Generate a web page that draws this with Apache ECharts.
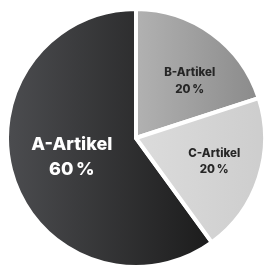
<!DOCTYPE html>
<html>
<head>
<meta charset="utf-8">
<script src="https://cdn.jsdelivr.net/npm/echarts@6/dist/echarts.min.js"></script>
<style>
  html, body { margin: 0; padding: 0; background: #fff; }
  #main { width: 267px; height: 266px; }
</style>
</head>
<body>
<div id="main"></div>
<script>
var categories = ["A-Artikel", "B-Artikel", "C-Artikel"];
var values = [60, 20, 20];
var percentLabels = ["60\u2009%", "20\u2009%", "20\u2009%"];

var gradients = [
  ["#4c4d50", "#1b1b1b"],
  ["#b2b2b2", "#8a8a8a"],
  ["#dcdcdc", "#cdcdcd"]
];
var labelStyles = [
  { color: "#ffffff", fontSize: 18, lineHeight: 25, offset: [0, -2] },
  { color: "#262626", fontSize: 11.5, lineHeight: 17, offset: [14, -2] },
  { color: "#262626", fontSize: 11.5, lineHeight: 16, offset: [14, 3] }
];

var chart = echarts.init(document.getElementById("main"));

var data = [];
for (var i = 0; i < categories.length; i++) {
  data.push({
    name: categories[i],
    value: values[i],
    pct: percentLabels[i],
    itemStyle: {
      color: new echarts.graphic.LinearGradient(0, 0, 1, 0, [
        { offset: 0, color: gradients[i][0] },
        { offset: 1, color: gradients[i][1] }
      ])
    },
    label: {
      color: labelStyles[i].color,
      fontSize: labelStyles[i].fontSize,
      lineHeight: labelStyles[i].lineHeight,
      offset: labelStyles[i].offset
    }
  });
}

var option = {
  animation: false,
  series: [
    {
      type: "pie",
      center: [136, 138],
      radius: [0, 129],
      startAngle: -54,
      clockwise: true,
      itemStyle: {
        borderColor: "#ffffff",
        borderWidth: 4
      },
      label: {
        show: true,
        position: "inside",
        fontFamily: "Inter",
        fontWeight: 800,
        align: "center",
        formatter: function (p) {
          return p.name + "\n" + p.data.pct;
        }
      },
      labelLine: { show: false },
      emphasis: { disabled: true },
      data: data
    }
  ]
};

chart.setOption(option);
</script>
</body>
</html>
